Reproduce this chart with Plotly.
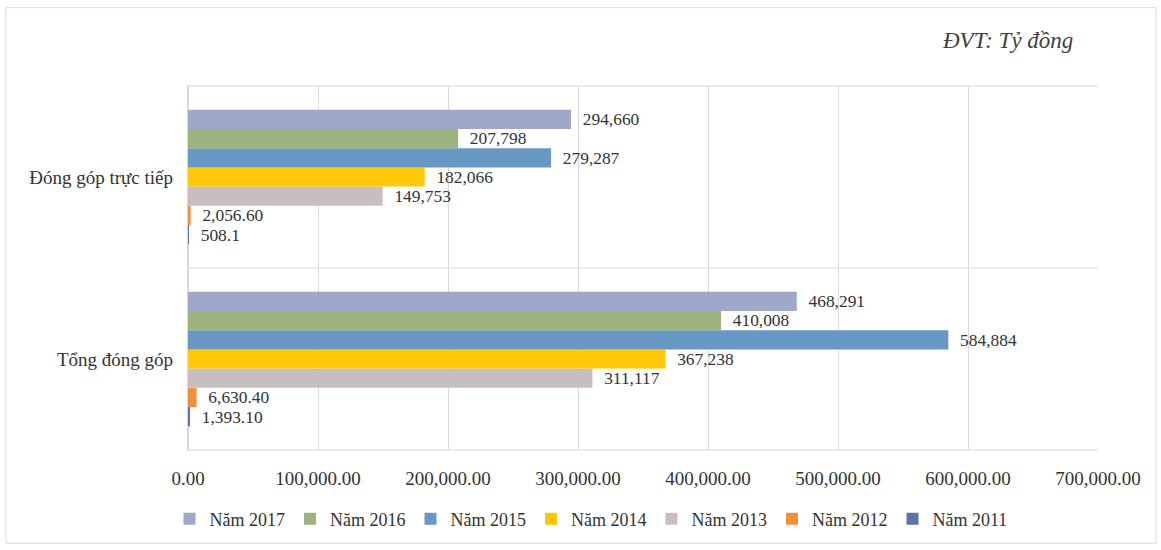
import plotly.graph_objects as go

categories = ["Tổng đóng góp", "Đóng góp trực tiếp"]
years = ["Năm 2011", "Năm 2012", "Năm 2013", "Năm 2014", "Năm 2015", "Năm 2016", "Năm 2017"]
# values per year: [Tổng đóng góp, Đóng góp trực tiếp]
v2011 = [1393.10, 508.1]
v2012 = [6630.40, 2056.60]
v2013 = [311117, 149753]
v2014 = [367238, 182066]
v2015 = [584884, 279287]
v2016 = [410008, 207798]
v2017 = [468291, 294660]
labels2011 = ["1,393.10", "508.1"]
labels2012 = ["6,630.40", "2,056.60"]
labels2013 = ["311,117", "149,753"]
labels2014 = ["367,238", "182,066"]
labels2015 = ["584,884", "279,287"]
labels2016 = ["410,008", "207,798"]
labels2017 = ["468,291", "294,660"]
x_ticks = [0, 100000, 200000, 300000, 400000, 500000, 600000, 700000]

values = [v2011, v2012, v2013, v2014, v2015, v2016, v2017]
labels = [labels2011, labels2012, labels2013, labels2014, labels2015, labels2016, labels2017]
colors = ["#5B73A9", "#F0913E", "#C7BFBF", "#FFC80A", "#6A98C5", "#9CB37F", "#A0A8CA"]

SERIF = "Liberation Serif"
fig = go.Figure()
for name, vals, labs, col in zip(years, values, labels, colors):
    fig.add_trace(go.Bar(
        y=categories, x=vals, name=name, orientation="h",
        marker=dict(color=col, line=dict(width=0)),
        text=["\u00a0\u00a0" + s for s in labs], textposition="outside", cliponaxis=False,
        textfont=dict(family=SERIF, size=19, color="#333333"),
        hoverinfo="x+name",
    ))

L, T = 188, 86
R = 1161 - 1098
B = 550 - 453
pw, ph = 1161 - L - R, 550 - T - B

def px_x(x):
    return (x - L) / pw

def px_y(y):
    return (550 - B - y) / ph

shapes = []
for yy in [0, 0.5, 1]:
    shapes.append(dict(type="line", xref="paper", yref="paper", x0=0, x1=1, y0=yy, y1=yy,
                       line=dict(color="#D9D9D9", width=1), layer="below"))
shapes.append(dict(type="rect", xref="paper", yref="paper",
                   x0=px_x(6), x1=px_x(1156), y0=px_y(547), y1=px_y(7),
                   line=dict(color="#D9D9D9", width=1)))

fig.update_layout(
    width=1161, height=550,
    margin=dict(l=L, r=R, t=T, b=B),
    paper_bgcolor="white", plot_bgcolor="white",
    barmode="group", bargap=0.26, bargroupgap=0,
    showlegend=True,
    legend=dict(orientation="h", traceorder="reversed", x=px_x(591), xanchor="center",
                y=px_y(504), yanchor="top", itemwidth=30,
                font=dict(family=SERIF, size=18, color="#333333")),
    xaxis=dict(range=[0, 700000], tickvals=x_ticks, tickformat=",.2f",
               showgrid=True, gridcolor="#D9D9D9", gridwidth=1, zeroline=True,
               zerolinecolor="#D9D9D9", showline=False, ticks="",
               ticklabelstandoff=15,
               tickfont=dict(family=SERIF, size=19, color="#333333")),
    yaxis=dict(showgrid=False, zeroline=False, showline=False, ticks="",
               ticklabelstandoff=14,
               tickfont=dict(family=SERIF, size=19, color="#333333")),
    shapes=shapes,
    annotations=[dict(text="ĐVT: Tỷ đồng", xref="paper", yref="paper",
                      x=px_x(1075), y=px_y(40), xanchor="right", yanchor="middle",
                      showarrow=False,
                      font=dict(family=SERIF, size=23, color="#404040", style="italic"))],
)

fig.write_html("out.html")
